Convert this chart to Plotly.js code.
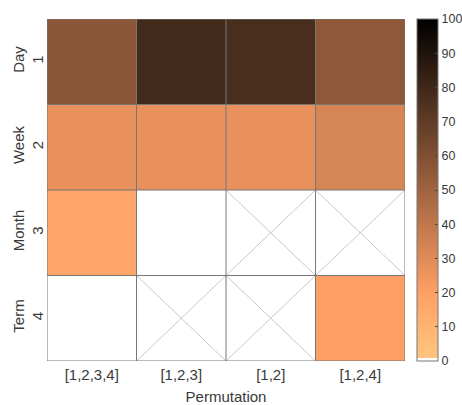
<!DOCTYPE html>
<html>
<head>
<meta charset="utf-8">
<script src="https://cdn.plot.ly/plotly-3.0.1.min.js"></script>
<style>html,body{margin:0;padding:0;background:#fff;}#chart{width:462px;height:405px;}</style>
</head>
<body>
<div id="chart"></div>
<script>
const permutations = ['[1,2,3,4]', '[1,2,3]', '[1,2]', '[1,2,4]'];
const horizons = ['Day<br>1', 'Week<br>2', 'Month<br>3', 'Term<br>4'];
const day = [56, 79, 77, 55];
const week = [27, 27, 27, 33];
const month = [17, 0, null, null];
const term = [0, null, null, 20];
const colorbarTicks = [0, 10, 20, 30, 40, 50, 60, 70, 80, 90, 100];

const z = [day, week, month, term];

// reversed MATLAB "copper" with a white first level
function copperRev(v) {
  const x = 1 - v;
  const r = Math.min(1, 1.25 * x), g = 0.7812 * x, b = 0.4975 * x;
  return 'rgb(' + Math.round(r * 255) + ',' + Math.round(g * 255) + ',' + Math.round(b * 255) + ')';
}
const colorscale = [[0, 'rgb(255,255,255)'], [0.009, 'rgb(255,255,255)'], [0.009, copperRev(0.009)],
  [0.2, copperRev(0.2)], [1, copperRev(1)]];

const shapes = [];
const nx = permutations.length, ny = horizons.length;
for (let j = 0; j < ny; j++) {
  for (let i = 0; i < nx; i++) {
    if (z[j][i] === null) {
      shapes.push({type: 'line', xref: 'x', yref: 'y', x0: i - 0.5, y0: j - 0.5, x1: i + 0.5, y1: j + 0.5,
        line: {color: '#c8c8c8', width: 1}});
      shapes.push({type: 'line', xref: 'x', yref: 'y', x0: i - 0.5, y0: j + 0.5, x1: i + 0.5, y1: j - 0.5,
        line: {color: '#c8c8c8', width: 1}});
    }
  }
}
for (let i = 0; i <= nx; i++) {
  shapes.push({type: 'line', xref: 'x', yref: 'y', x0: i - 0.5, x1: i - 0.5, y0: -0.5, y1: ny - 0.5,
    line: {color: '#777777', width: 1}});
}
for (let j = 0; j <= ny; j++) {
  shapes.push({type: 'line', xref: 'x', yref: 'y', x0: -0.5, x1: nx - 0.5, y0: j - 0.5, y1: j - 0.5,
    line: {color: '#777777', width: 1}});
}

const trace = {
  type: 'heatmap',
  x: permutations,
  y: horizons,
  z: z,
  zmin: 0, zmax: 100,
  colorscale: colorscale,
  hoverongaps: false,
  colorbar: {
    x: 1.0327, xanchor: 'left', xpad: 0, y: 0.5, yanchor: 'middle', len: 1, lenmode: 'fraction', ypad: 0,
    thickness: 21, thicknessmode: 'pixels',
    outlinecolor: '#777777', outlinewidth: 1,
    tickmode: 'array', tickvals: colorbarTicks, ticktext: colorbarTicks.map(String),
    ticks: 'inside', ticklen: 3, tickcolor: '#444', tickwidth: 1,
    tickfont: {family: 'Liberation Sans, Arial, sans-serif', size: 12.5, color: '#3a3a3a'}
  }
};

const layout = {
  width: 462, height: 405,
  margin: {l: 46.7, r: 57, t: 19, b: 44, pad: 0, autoexpand: false},
  paper_bgcolor: '#fff', plot_bgcolor: '#fff',
  font: {family: 'Liberation Sans, Arial, sans-serif', size: 15, color: '#3a3a3a'},
  xaxis: {
    type: 'category', range: [-0.5, nx - 0.5], showgrid: false, zeroline: false,
    ticks: '', showline: false, ticklabelstandoff: 3,
    tickfont: {size: 15, color: '#3a3a3a'},
    title: {text: 'Permutation', font: {size: 15, color: '#3a3a3a'}, standoff: 9}
  },
  yaxis: {
    type: 'category', range: [ny - 0.5, -0.5], showgrid: false, zeroline: false,
    ticks: '', showline: false, tickangle: -90,
    tickfont: {size: 15, color: '#3a3a3a'}
  },
  shapes: shapes
};

Plotly.newPlot('chart', [trace], layout, {displayModeBar: false, staticPlot: true});
</script>
</body>
</html>
